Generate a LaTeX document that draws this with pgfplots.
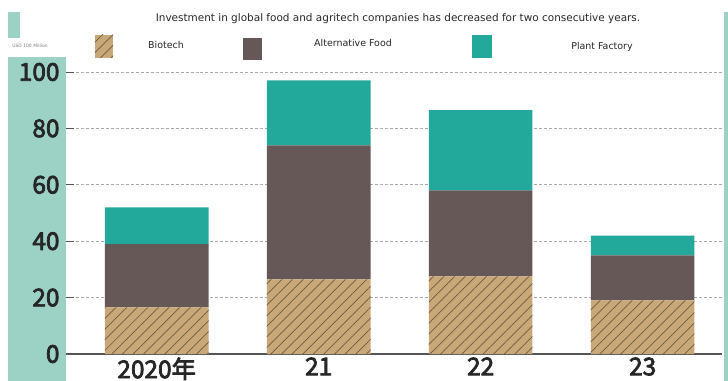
\documentclass[border=0pt]{standalone}
\usepackage{fontspec}
\setmainfont{DejaVu Sans}
\newfontfamily\cjk[FakeBold=3]{Noto Sans CJK SC}
\usepackage{pgfplots}
\pgfplotsset{compat=1.18}
\usetikzlibrary{patterns.meta}
\definecolor{tanc}{HTML}{C9A877}
\definecolor{hatchc}{HTML}{6E5A45}
\definecolor{altc}{HTML}{675858}
\definecolor{plantc}{HTML}{22A99B}
\definecolor{stripc}{HTML}{9CD1C6}
\definecolor{axc}{HTML}{555555}
\begin{document}
\begin{tikzpicture}
\useasboundingbox (-66bp,-27bp) rectangle (662bp,354bp);
\fill[white] (-66bp,-27bp) rectangle (662bp,354bp);
\fill[stripc] (-58bp,-27bp) rectangle (0bp,297bp);
\fill[stripc] (-58bp,316bp) rectangle (-46bp,342bp);
\fill[stripc] (658bp,-27bp) rectangle (662bp,342bp);
\begin{axis}[
  at={(0bp,0bp)}, anchor=south west,
  scale only axis, width=656bp, height=282bp,
  ybar stacked, bar width=0.64,
  xmin=-0.56, xmax=3.49, ymin=0, ymax=100,
  xtick={0,1,2,3}, xticklabels={2020年,21,22,23},
  ytick={0,20,40,60,80,100},
  /pgf/number format/assume math mode=true,
  ymajorgrids, grid style={densely dashed, gray!70, line width=0.6pt},
  axis x line*=bottom, axis y line*=left,
  x axis line style={-, axc, line width=1.2pt},
  y axis line style={draw=none},
  tick align=inside, major tick length=8bp,
  ytick style={axc, line width=0.9pt},
  xtick style={draw=none},
  tick label style={font=\cjk\fontsize{24.5}{24.5}\selectfont, black!85},
  yticklabel style={xshift=-3bp},
  xticklabel style={yshift=0bp},
  clip=false,
]
\addplot[fill=tanc, draw=none, postaction={pattern={Lines[angle=45,distance=7.5bp,line width=0.7bp]}, pattern color=hatchc}]
  coordinates {(0,16.5) (1,26.5) (2,27.5) (3,19)};
\addplot[fill=altc, draw=none] coordinates {(0,22.5) (1,47.5) (2,30.5) (3,16)};
\addplot[fill=plantc, draw=none] coordinates {(0,13) (1,23) (2,28.5) (3,7)};
\end{axis}
\node[font=\fontsize{10.5}{11}\selectfont, text=black!85] at (332bp,335bp) {Investment in global food and agritech companies has decreased for two consecutive years.};
\node[font=\fontsize{4.5}{5}\selectfont, text=gray] at (-36bp,308bp) {USD 100 Million};
\fill[tanc] (29bp,296bp) rectangle (47bp,319bp);
\fill[pattern={Lines[angle=45,distance=7.5bp,line width=0.7bp]}, pattern color=hatchc] (29bp,296bp) rectangle (47bp,319bp);
\node[font=\fontsize{9.5}{10}\selectfont, text=black!85] at (100bp,309bp) {Biotech};
\fill[altc] (177bp,294bp) rectangle (196bp,316bp);
\node[font=\fontsize{9.5}{10}\selectfont, text=black!85] at (287bp,311bp) {Alternative Food};
\fill[plantc] (406bp,296bp) rectangle (426bp,319bp);
\node[font=\fontsize{9.5}{10}\selectfont, text=black!85] at (536bp,307bp) {Plant Factory};
\end{tikzpicture}
\end{document}
